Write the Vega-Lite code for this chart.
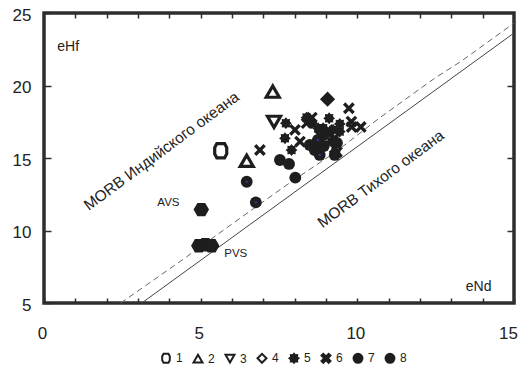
{
  "$schema": "https://vega.github.io/schema/vega-lite/v6.json",
  "width": 470,
  "height": 290,
  "autosize": {"type": "none"},
  "padding": {"left": 44, "top": 13, "right": 6, "bottom": 82},
  "background": "white",
  "config": {
    "view": {"stroke": "#2e2e2e", "strokeWidth": 3.5},
    "font": "Liberation Sans",
    "axis": {"grid": false, "domain": false, "tickColor": "#2e2e2e", "tickWidth": 1.5, "labelFont": "Liberation Sans", "labelColor": "#222", "labelFontSize": 17},
    "legend": {"symbolStrokeWidth": 2}
  },
  "datasets": {
    "solid": [{"x": 3.12, "y": 5}, {"x": 15, "y": 23.62}],
    "dashed": [
      {"x": 2.45, "y": 5.0}, {"x": 4.4, "y": 7.95}, {"x": 6.0, "y": 10.45}, {"x": 7.85, "y": 13.3},
      {"x": 9.3, "y": 15.4}, {"x": 10.7, "y": 17.75}, {"x": 12.5, "y": 20.55}, {"x": 13.3, "y": 21.65}, {"x": 15, "y": 24.3}
    ],
    "points": [
      {"x": 5.64, "y": 15.5, "series": "1"},
      {"x": 6.47, "y": 14.81, "series": "2"},
      {"x": 7.3, "y": 19.58, "series": "2"},
      {"x": 7.34, "y": 17.49, "series": "3"},
      {"x": 9.05, "y": 19.06, "series": "4"},
      {"x": 7.72, "y": 17.4, "series": "5"},
      {"x": 7.69, "y": 16.36, "series": "5"},
      {"x": 7.9, "y": 15.55, "series": "5"},
      {"x": 8.38, "y": 17.79, "series": "5"},
      {"x": 8.55, "y": 17.4, "series": "5"},
      {"x": 9.1, "y": 17.74, "series": "5"},
      {"x": 8.75, "y": 17.05, "series": "5"},
      {"x": 8.91, "y": 17.05, "series": "5"},
      {"x": 9.23, "y": 16.94, "series": "5"},
      {"x": 8.96, "y": 16.59, "series": "5"},
      {"x": 9.44, "y": 16.82, "series": "5"},
      {"x": 9.18, "y": 16.13, "series": "5"},
      {"x": 9.44, "y": 17.35, "series": "5"},
      {"x": 6.89, "y": 15.55, "series": "6"},
      {"x": 8.01, "y": 16.94, "series": "6"},
      {"x": 8.55, "y": 17.79, "series": "6"},
      {"x": 8.38, "y": 17.4, "series": "6"},
      {"x": 9.73, "y": 18.43, "series": "6"},
      {"x": 9.81, "y": 17.51, "series": "6"},
      {"x": 9.82, "y": 17.14, "series": "6"},
      {"x": 10.11, "y": 17.14, "series": "6"},
      {"x": 9.07, "y": 16.94, "series": "6"},
      {"x": 8.8, "y": 16.59, "series": "6"},
      {"x": 9.12, "y": 16.59, "series": "6"},
      {"x": 9.28, "y": 16.38, "series": "6"},
      {"x": 8.17, "y": 16.13, "series": "6"},
      {"x": 9.28, "y": 15.67, "series": "6"},
      {"x": 9.35, "y": 15.41, "series": "6"},
      {"x": 6.47, "y": 13.36, "series": "7"},
      {"x": 6.76, "y": 11.94, "series": "7"},
      {"x": 8.8, "y": 15.21, "series": "7"},
      {"x": 8.74, "y": 16.25, "series": "7"},
      {"x": 7.53, "y": 14.86, "series": "8"},
      {"x": 7.82, "y": 14.59, "series": "8"},
      {"x": 8.02, "y": 13.65, "series": "8"},
      {"x": 8.48, "y": 15.9, "series": "8"},
      {"x": 8.64, "y": 15.55, "series": "8"},
      {"x": 8.93, "y": 15.83, "series": "8"},
      {"x": 9.35, "y": 16.04, "series": "8"},
      {"x": 9.28, "y": 15.21, "series": "8"}
    ],
    "vs": [
      {"x": 5.02, "y": 11.44, "group": "AVS"},
      {"x": 4.94, "y": 8.95, "group": "PVS"},
      {"x": 5.15, "y": 9.02, "group": "PVS"},
      {"x": 5.35, "y": 8.95, "group": "PVS"}
    ],
    "morb": [
      {"x": 3.75, "y": 15.48, "label": "MORB Индийского океана"},
      {"x": 10.75, "y": 13.55, "label": "MORB Тихого океана"}
    ],
    "axlab": [
      {"x": 0.77, "y": 22.67, "label": "eHf"},
      {"x": 13.87, "y": 6.09, "label": "eNd"}
    ],
    "vslab": [
      {"x": 3.97, "y": 11.92, "label": "AVS"},
      {"x": 6.12, "y": 8.41, "label": "PVS"}
    ]
  },
  "resolve": {"axis": {"x": "independent", "y": "independent"}},
  "layer": [
    {
      "data": {"name": "solid"},
      "mark": {"type": "line", "color": "#444", "strokeWidth": 1},
      "encoding": {
        "x": {"field": "x", "type": "quantitative", "scale": {"domain": [0, 15], "nice": false, "zero": false},
          "axis": {"orient": "bottom", "title": null, "values": [0,1,2,3,4,5,6,7,8,9,10,11,12,13,14,15], "labelExpr": "datum.value % 5 === 0 ? datum.label : ''", "tickSize": -5, "labelPadding": 27, "labelOffset": {"condition": {"test": "datum.value == 15", "value": -6}, "value": -2}, "labelFlush": false, "labelOverlap": false}},
        "y": {"field": "y", "type": "quantitative", "scale": {"domain": [5, 25], "nice": false, "zero": false},
          "axis": {"orient": "left", "title": null, "values": [5, 10, 15, 20, 25], "tickSize": -7, "labelPadding": 20, "labelOffset": 2, "labelFlush": false, "labelOverlap": false}}
      }
    },
    {
      "data": {"name": "dashed"},
      "mark": {"type": "line", "color": "#666", "strokeWidth": 1, "strokeDash": [6, 4]},
      "encoding": {
        "x": {"field": "x", "type": "quantitative", "scale": {"domain": [0, 15], "nice": false, "zero": false},
          "axis": {"orient": "top", "title": null, "values": [1,2,3,4,5,6,7,8,9,10,11,12,13,14], "labels": false, "tickSize": -5}},
        "y": {"field": "y", "type": "quantitative", "scale": {"domain": [5, 25], "nice": false, "zero": false},
          "axis": {"orient": "right", "title": null, "values": [10, 15, 20], "labels": false, "tickSize": -7}}
      }
    },
    {
      "data": {"name": "vs"},
      "mark": {"type": "point", "filled": true, "opacity": 1, "color": "#1e1e1e", "size": 240, "shape": "M-1,0L-0.5,-0.87L0.5,-0.87L1,0L0.5,0.87L-0.5,0.87Z"},
      "encoding": {
        "x": {"field": "x", "type": "quantitative", "axis": null},
        "y": {"field": "y", "type": "quantitative", "axis": null}
      }
    },
    {
      "data": {"name": "points"},
      "mark": {"type": "point", "filled": true, "opacity": 1},
      "encoding": {
        "x": {"field": "x", "type": "quantitative", "axis": null},
        "y": {"field": "y", "type": "quantitative", "axis": null},
        "shape": {"field": "series", "type": "nominal",
          "scale": {"domain": ["1","2","3","4","5","6","7","8"],
            "range": [
              "M-0.55,-1L0.55,-1L0.85,-0.45L0.85,0.45L0.55,1L-0.55,1L-0.85,0.45L-0.85,-0.45Z",
              "triangle-up", "triangle-down", "diamond",
              "M1,0L0.665,0.276L0.707,0.707L0.276,0.665L0,1L-0.276,0.665L-0.707,0.707L-0.665,0.276L-1,0L-0.665,-0.276L-0.707,-0.707L-0.276,-0.665L0,-1L0.276,-0.665L0.707,-0.707L0.665,-0.276Z",
              "M-1,-0.6L-0.6,-1L0,-0.4L0.6,-1L1,-0.6L0.4,0L1,0.6L0.6,1L0,0.4L-0.6,1L-1,0.6L-0.4,0Z",
              "circle", "circle"]},
          "legend": {"title": null, "orient": "none", "legendX": 116, "legendY": 339, "direction": "horizontal", "columns": 8,
            "labelFontSize": 12, "labelFont": "Liberation Sans", "labelColor": "#222", "symbolSize": 80, "symbolOpacity": 1,
            "symbolStrokeWidth": 2, "labelOffset": 4, "columnPadding": 6}
        },
        "fill": {"condition": {"test": "datum.series == '4'", "value": "#1e1e1e"},
          "field": "series", "type": "nominal",
          "scale": {"domain": ["1","2","3","4","5","6","7","8"],
            "range": ["transparent", "transparent", "transparent", "transparent", "#1e1e1e", "#1e1e1e", "#1e1e1e", "#1e1e1e"]},
          "legend": {"title": null, "orient": "none", "legendX": 116, "legendY": 339, "direction": "horizontal", "columns": 8,
            "labelFontSize": 12, "labelFont": "Liberation Sans", "labelColor": "#222", "symbolSize": 80, "symbolOpacity": 1,
            "symbolStrokeWidth": 2, "labelOffset": 4, "columnPadding": 6}
        },
        "stroke": {"field": "series", "type": "nominal",
          "scale": {"domain": ["1","2","3","4","5","6","7","8"],
            "range": ["#1e1e1e", "#1e1e1e", "#1e1e1e", "#1e1e1e", "#1e1e1e", "#1e1e1e", "#1e1e1e", "#1e1e1e"]},
          "legend": {"title": null, "orient": "none", "legendX": 116, "legendY": 339, "direction": "horizontal", "columns": 8,
            "labelFontSize": 12, "labelFont": "Liberation Sans", "labelColor": "#222", "symbolSize": 80, "symbolOpacity": 1,
            "symbolStrokeWidth": 2, "labelOffset": 4, "columnPadding": 6}
        },
        "strokeWidth": {"condition": {"test": "indexof(['1','2','3'], datum.series) >= 0", "value": 3.2}, "value": 0},
        "size": {"condition": [
          {"test": "datum.series == '1'", "value": 200},
          {"test": "datum.series == '2' || datum.series == '3'", "value": 170},
          {"test": "datum.series == '4'", "value": 230}
        ], "value": 140}
      }
    },
    {
      "data": {"name": "points"},
      "transform": [{"filter": "datum.series == '7'"}],
      "mark": {"type": "point", "filled": true, "opacity": 1, "color": "#3a30a0", "size": 6},
      "encoding": {
        "x": {"field": "x", "type": "quantitative", "axis": null},
        "y": {"field": "y", "type": "quantitative", "axis": null}
      }
    },
    {
      "data": {"name": "morb"},
      "mark": {"type": "text", "font": "Liberation Sans", "fontSize": 15.5, "angle": -36.5, "color": "#222", "align": "center", "baseline": "middle"},
      "encoding": {
        "x": {"field": "x", "type": "quantitative", "axis": null},
        "y": {"field": "y", "type": "quantitative", "axis": null},
        "text": {"field": "label"}
      }
    },
    {
      "data": {"name": "axlab"},
      "mark": {"type": "text", "font": "Liberation Sans", "fontSize": 14, "color": "#222", "align": "center", "baseline": "middle"},
      "encoding": {
        "x": {"field": "x", "type": "quantitative", "axis": null},
        "y": {"field": "y", "type": "quantitative", "axis": null},
        "text": {"field": "label"}
      }
    },
    {
      "data": {"name": "vslab"},
      "mark": {"type": "text", "font": "Liberation Sans", "fontSize": 11.5, "color": "#222", "align": "center", "baseline": "middle"},
      "encoding": {
        "x": {"field": "x", "type": "quantitative", "axis": null},
        "y": {"field": "y", "type": "quantitative", "axis": null},
        "text": {"field": "label"}
      }
    }
  ]
}
